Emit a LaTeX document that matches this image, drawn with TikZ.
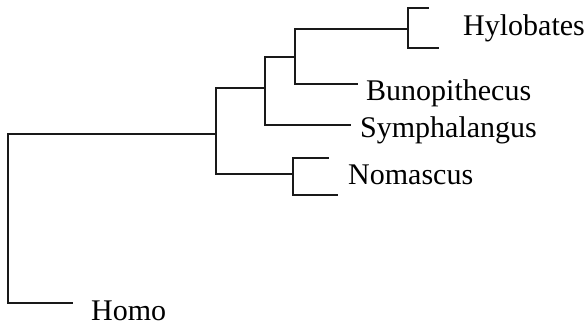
\documentclass[tikz,border=0pt]{standalone}
\usepackage{fontspec}
\setmainfont{Liberation Serif}
\begin{document}
\begin{tikzpicture}[x=1pt,y=-1pt,
  branch/.style={draw=black!90,line width=2.3pt,line cap=rect},
  taxon/.style={anchor=base west,inner sep=0pt,font=\fontsize{30}{30}\selectfont}]
\useasboundingbox (0,0) rectangle (588,328);
% internal coordinates
\coordinate (rootT) at (8,134);
\coordinate (rootB) at (8,303);
\coordinate (homoE) at (72,303);
\coordinate (n1T) at (216,88);
\coordinate (n1M) at (216,134);
\coordinate (n1B) at (216,174);
\coordinate (n2T) at (265,57);
\coordinate (n2M) at (265,88);
\coordinate (n2B) at (265,125);
\coordinate (symE) at (350,125);
\coordinate (n3T) at (295,29);
\coordinate (n3M) at (295,57);
\coordinate (n3B) at (295,84);
\coordinate (bunE) at (357,84);
\coordinate (hylT) at (408,8);
\coordinate (hylM) at (408,29);
\coordinate (hylB) at (408,48);
\coordinate (hylTE) at (428,8);
\coordinate (hylBE) at (438,48);
\coordinate (nomT) at (293,158);
\coordinate (nomM) at (293,174);
\coordinate (nomB) at (293,195);
\coordinate (nomTE) at (328,158);
\coordinate (nomBE) at (337,195);
% labels
\node[taxon] (hyl) at (463,36) {Hylobates};
\node[taxon] (bun) at (366,101) {Bunopithecus};
\node[taxon] (sym) at (360,138) {Symphalangus};
\node[taxon] (nom) at (348,185) {Nomascus};
\node[taxon] (homo) at (91,320) {Homo};
% tree
\path[branch] (homoE) -- (rootB) -- (rootT) -- (n1M);
\path[branch] (n1T) -- (n1B);
\path[branch] (n1T) -- (n2M);
\path[branch] (n2T) -- (n2B) -- (symE);
\path[branch] (n2T) -- (n3M);
\path[branch] (n3T) -- (n3B) -- (bunE);
\path[branch] (n3T) -- (hylM);
\path[branch] (hylTE) -- (hylT) -- (hylB) -- (hylBE);
\path[branch] (n1B) -- (nomM);
\path[branch] (nomTE) -- (nomT) -- (nomB) -- (nomBE);
\end{tikzpicture}
\end{document}
